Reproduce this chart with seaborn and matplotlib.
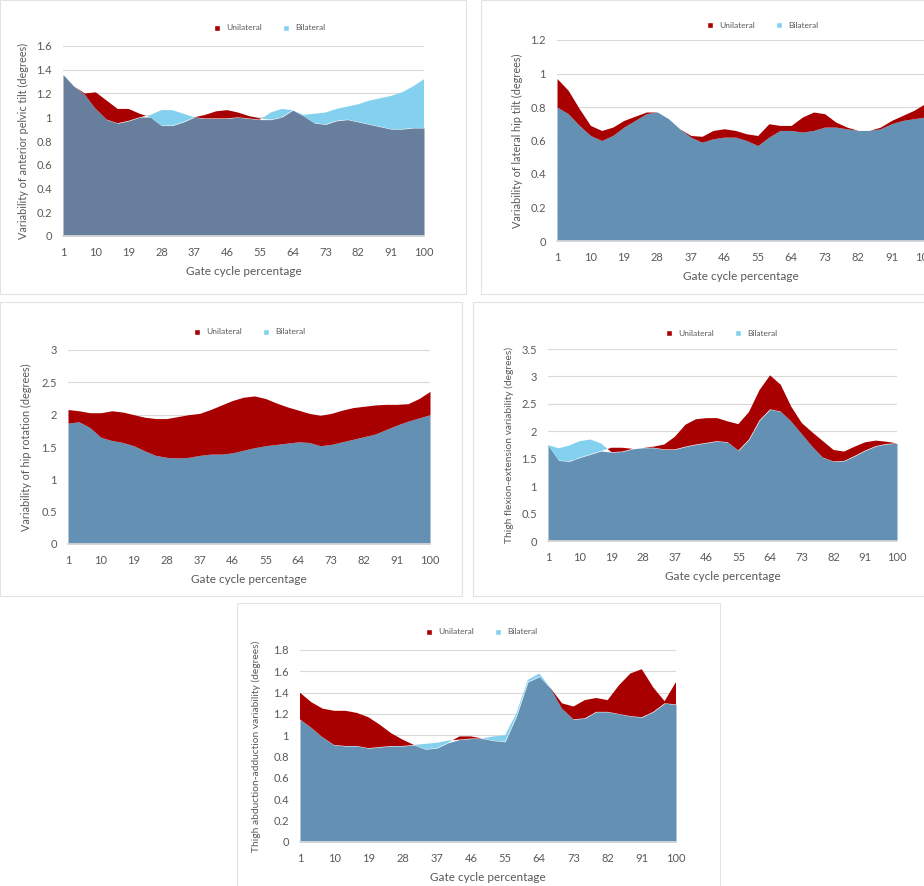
import numpy as np
import matplotlib
matplotlib.use("Agg")
import matplotlib.pyplot as plt
from matplotlib.patches import Patch, Rectangle
from matplotlib.ticker import FuncFormatter
import seaborn as sns

sns.set_theme(style="white")
plt.rcParams["font.family"] = ["Lato", "DejaVu Sans"]

# Gait cycle sample points (percent of cycle)
cycle = list(range(1, 101, 3))
tick_labels = [1, 10, 19, 28, 37, 46, 55, 64, 73, 82, 91, 100]

pelvic_tilt_uni = [1.36, 1.26, 1.20, 1.21, 1.14, 1.07, 1.07, 1.03, 1.00, 0.93, 0.93, 0.96, 1.00, 1.02, 1.05, 1.06, 1.04,
                   1.01, 0.99, 0.98, 1.00, 1.06, 1.01, 0.95, 0.94, 0.97, 0.98, 0.96, 0.94, 0.92, 0.90, 0.90, 0.91, 0.91]
pelvic_tilt_bi = [1.36, 1.26, 1.19, 1.07, 0.98, 0.95, 0.97, 1.00, 1.02, 1.06, 1.06, 1.03, 1.00, 0.99, 0.99, 0.99, 1.00,
                  0.99, 0.98, 1.04, 1.07, 1.06, 1.02, 1.03, 1.04, 1.07, 1.09, 1.11, 1.14, 1.16, 1.18, 1.21, 1.26, 1.32]

hip_tilt_uni = [0.97, 0.90, 0.79, 0.69, 0.66, 0.68, 0.72, 0.745, 0.77, 0.77, 0.73, 0.67, 0.63, 0.625, 0.66, 0.67, 0.66,
                0.64, 0.63, 0.70, 0.69, 0.69, 0.74, 0.77, 0.76, 0.71, 0.68, 0.66, 0.66, 0.68, 0.72, 0.75, 0.78, 0.82]
hip_tilt_bi = [0.80, 0.76, 0.69, 0.63, 0.60, 0.63, 0.68, 0.72, 0.76, 0.77, 0.73, 0.67, 0.62, 0.59, 0.61, 0.62, 0.62,
               0.60, 0.57, 0.62, 0.66, 0.66, 0.65, 0.66, 0.68, 0.68, 0.67, 0.66, 0.66, 0.67, 0.70, 0.72, 0.73, 0.74]

hip_rot_uni = [2.08, 2.06, 2.03, 2.03, 2.06, 2.04, 2.00, 1.96, 1.94, 1.94, 1.97, 2.00, 2.02, 2.08, 2.15, 2.22, 2.27,
               2.29, 2.25, 2.18, 2.12, 2.07, 2.02, 1.99, 2.02, 2.07, 2.11, 2.13, 2.15, 2.16, 2.16, 2.17, 2.25, 2.36]
hip_rot_bi = [1.87, 1.89, 1.80, 1.65, 1.60, 1.57, 1.52, 1.44, 1.37, 1.34, 1.33, 1.34, 1.37, 1.39, 1.39, 1.41, 1.45,
              1.49, 1.52, 1.54, 1.56, 1.58, 1.57, 1.52, 1.54, 1.58, 1.62, 1.66, 1.70, 1.77, 1.84, 1.90, 1.95, 2.00]

flex_ext_uni = [1.75, 1.47, 1.45, 1.52, 1.58, 1.64, 1.70, 1.70, 1.68, 1.70, 1.72, 1.76, 1.90, 2.12, 2.22, 2.24, 2.24,
                2.18, 2.13, 2.35, 2.75, 3.02, 2.85, 2.45, 2.15, 1.98, 1.82, 1.66, 1.63, 1.72, 1.80, 1.83, 1.81, 1.78]
flex_ext_bi = [1.75, 1.69, 1.74, 1.82, 1.85, 1.78, 1.62, 1.63, 1.68, 1.70, 1.70, 1.67, 1.67, 1.72, 1.76, 1.79, 1.82,
               1.80, 1.65, 1.85, 2.20, 2.40, 2.36, 2.18, 1.95, 1.72, 1.52, 1.45, 1.46, 1.55, 1.65, 1.73, 1.77, 1.78]

abd_add_uni = [1.40, 1.31, 1.25, 1.23, 1.23, 1.21, 1.17, 1.10, 1.02, 0.96, 0.91, 0.87, 0.88, 0.93, 0.99, 0.99, 0.97,
               0.95, 0.94, 1.18, 1.50, 1.55, 1.44, 1.30, 1.27, 1.33, 1.35, 1.33, 1.47, 1.58, 1.62, 1.45, 1.32, 1.50]
abd_add_bi = [1.15, 1.07, 0.98, 0.91, 0.90, 0.90, 0.88, 0.89, 0.90, 0.90, 0.91, 0.92, 0.93, 0.95, 0.96, 0.97, 0.97,
              0.99, 1.00, 1.21, 1.52, 1.58, 1.44, 1.25, 1.15, 1.16, 1.22, 1.22, 1.20, 1.18, 1.17, 1.22, 1.30, 1.29]

RED = "#a80000"
LIGHT = "#84d0ef"
STEEL = "#6490b4"
SLATE = "#677f9d"
TEXT = "#595959"
GRID = "#d9d9d9"

W, H = 924, 886
fig = plt.figure(figsize=(W / 100, H / 100), dpi=100)
fig.patch.set_facecolor("white")


def frac_box(l, t, r, b):
    return [l / W, 1 - b / H, (r - l) / W, (b - t) / H]


def panel(frame, box, uni, bi, ymax, ystep, ylabel, ylabel_x, legend_xy, overlap, ylabel_size=7.8):
    # light grey chart-area frame
    fl, ft, fr, fb = frame
    fig.patches.append(Rectangle((fl / W, 1 - fb / H), (fr - fl) / W, (fb - ft) / H,
                                 transform=fig.transFigure, fill=False,
                                 edgecolor="#e3e3e3", linewidth=0.8))
    ax = fig.add_axes(frac_box(*box))
    x = np.array(cycle, dtype=float)
    u = np.array(uni)
    b = np.array(bi)
    low = np.minimum(u, b)
    ax.fill_between(x, 0, low, color=overlap, linewidth=0, zorder=2)
    ax.fill_between(x, b, u, where=u >= b, interpolate=True, color=RED, linewidth=0, zorder=2)
    ax.fill_between(x, u, b, where=b >= u, interpolate=True, color=LIGHT, linewidth=0, zorder=2)
    ax.set_xlim(1, 100)
    ax.set_ylim(0, ymax)
    ax.set_yticks(np.arange(0, ymax + 1e-9, ystep))
    ax.yaxis.set_major_formatter(FuncFormatter(lambda v, p: f"{v:g}"))
    ax.set_xticks(tick_labels)
    ax.grid(axis="y", color=GRID, linewidth=0.8)
    ax.grid(axis="x", visible=False)
    ax.set_axisbelow(True)
    for s in ["top", "right", "left"]:
        ax.spines[s].set_visible(False)
    ax.spines["bottom"].set_color(GRID)
    ax.tick_params(axis="both", length=0, labelsize=8, labelcolor=TEXT)
    ax.tick_params(axis="y", pad=8)
    ax.tick_params(axis="x", pad=8)
    ax.set_xlabel("Gate cycle percentage", fontsize=8.5, color=TEXT, labelpad=6)
    ax.set_ylabel("")
    yc = (box[1] + box[3]) / 2
    fig.text(ylabel_x / W, 1 - yc / H, ylabel, rotation=90, ha="center", va="center",
             fontsize=ylabel_size, color=TEXT)
    handles = [Patch(facecolor=RED, label="Unilateral"), Patch(facecolor=LIGHT, label="Bilateral")]
    fig.legend(handles=handles, loc="center", ncol=2, frameon=False,
               bbox_to_anchor=(legend_xy[0] / W, 1 - legend_xy[1] / H),
               fontsize=6, handlelength=0.7, handleheight=0.7, handletextpad=0.8,
               columnspacing=2.5, labelcolor=TEXT)
    return ax


panel((0, 0, 466, 294), (63, 46, 424, 236), pelvic_tilt_uni, pelvic_tilt_bi, 1.6, 0.2,
      "Variability of anterior pelvic tilt (degrees)", 23, (270, 28), SLATE)
panel((481, 0, 930, 294), (557, 40, 925, 241), hip_tilt_uni, hip_tilt_bi, 1.2, 0.2,
      "Variability of lateral hip tilt (degrees)", 517, (763, 25), STEEL)
panel((0, 302, 462, 596), (68, 350, 430, 544), hip_rot_uni, hip_rot_bi, 3.0, 0.5,
      "Variability of hip rotation (degrees)", 26, (250, 332), STEEL)
panel((473, 302, 930, 596), (548, 349, 897, 541), flex_ext_uni, flex_ext_bi, 3.5, 0.5,
      "Thigh flexion-extension variability (degrees)", 509, (722, 333), STEEL, 7.4)
panel((237, 603, 720, 890), (300, 650, 676, 842), abd_add_uni, abd_add_bi, 1.8, 0.2,
      "Thigh abduction-adduction variability (degrees)", 256, (482, 632), STEEL, 7.4)

fig.savefig("out.png", dpi=100, facecolor="white")
